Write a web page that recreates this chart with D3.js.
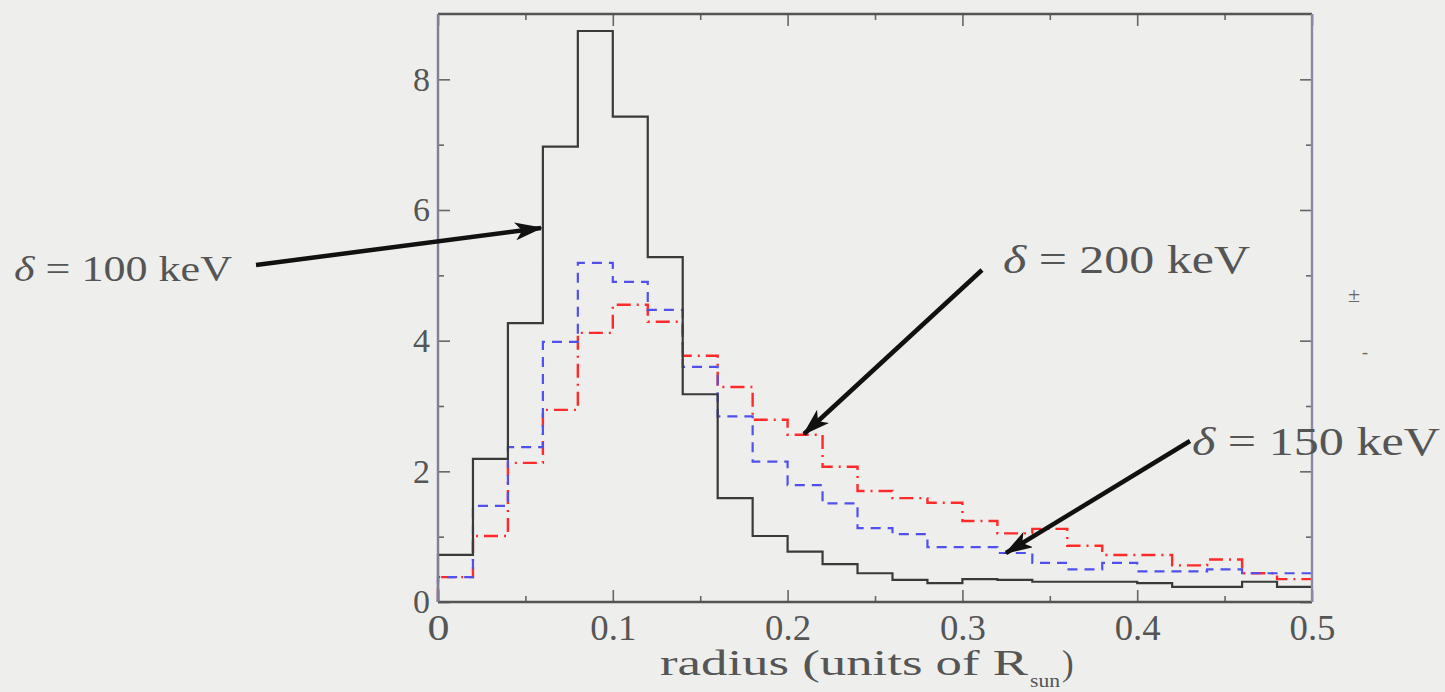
<!DOCTYPE html>
<html>
<head>
<meta charset="utf-8">
<script src="https://cdn.jsdelivr.net/npm/d3@7"></script>
<style>
  html, body { margin: 0; padding: 0; background: #eeeeec; }
  svg { display: block; }
  text { font-family: "Liberation Serif", "DejaVu Serif", serif; }
</style>
</head>
<body>
<svg id="chart" width="1445" height="692"></svg>
<script>
// ---- data ----
const binStarts = [0.00, 0.02, 0.04, 0.06, 0.08, 0.10, 0.12, 0.14, 0.16, 0.18,
                   0.20, 0.22, 0.24, 0.26, 0.28, 0.30, 0.32, 0.34, 0.36, 0.38,
                   0.40, 0.42, 0.44, 0.46, 0.48];
const binEnd = 0.5;
const keV100 = [0.72, 2.19, 4.27, 6.97, 8.74, 7.43, 5.28, 3.18, 1.59, 1.01,
                0.77, 0.58, 0.44, 0.34, 0.29, 0.35, 0.34, 0.31, 0.31, 0.31,
                0.29, 0.23, 0.23, 0.31, 0.23];
const keV150 = [0.38, 1.47, 2.37, 3.98, 5.19, 4.90, 4.47, 3.60, 2.84, 2.15,
                1.79, 1.51, 1.13, 1.04, 0.84, 0.84, 0.75, 0.60, 0.50, 0.60,
                0.47, 0.47, 0.50, 0.44, 0.44];
const keV200 = [0.38, 1.01, 2.13, 2.94, 4.12, 4.55, 4.29, 3.77, 3.29, 2.79,
                2.56, 2.07, 1.70, 1.59, 1.52, 1.24, 1.05, 1.12, 0.86, 0.72,
                0.72, 0.56, 0.65, 0.44, 0.35];
const xMajorTicks = [0, 0.1, 0.2, 0.3, 0.4, 0.5];
const xMinorTicks = [0.05, 0.15, 0.25, 0.35, 0.45];
const yMajorTicks = [0, 2, 4, 6, 8];
const yMinorTicks = [1, 3, 5, 7];

// ---- layout ----
const svg = d3.select("#chart");
const L = 438, R = 1312, T = 14, B = 602;
const x = d3.scaleLinear().domain([0, 0.5]).range([L, R]);
const y = d3.scaleLinear().domain([0, 9]).range([B, T]);

svg.append("rect").attr("width", 1445).attr("height", 692).attr("fill", "#eeeeec");

// histogram paths
function histPoints(vals) {
  const pts = [[0, 0]];
  vals.forEach((v, i) => pts.push([binStarts[i], v]));
  pts.push([binEnd, vals[vals.length - 1]]);
  return pts;
}
const line = d3.line().x(d => x(d[0])).y(d => y(d[1])).curve(d3.curveStepAfter);

svg.append("path").attr("d", line(histPoints(keV200)))
  .attr("fill", "none").attr("stroke", "#ff2a2a").attr("stroke-width", 2.4)
  .attr("stroke-dasharray", "14,6,2,6");
svg.append("path").attr("d", line(histPoints(keV150)))
  .attr("fill", "none").attr("stroke", "#5050ee").attr("stroke-width", 2.2)
  .attr("stroke-dasharray", "10,7");
svg.append("path").attr("d", line(histPoints(keV100)))
  .attr("fill", "none").attr("stroke", "#3a3a3a").attr("stroke-width", 2.2);

// axes (ticks inward)
const axisG = svg.append("g");
function axis(gen, tr) {
  const g = axisG.append("g").attr("transform", tr).call(gen);
  g.select(".domain").remove();
  g.selectAll("line").attr("stroke", "#666").attr("stroke-width", 1.6);
  return g;
}
// bottom
const bx = axis(d3.axisBottom(x).tickValues(xMajorTicks).tickSize(-12).tickPadding(12)
  .tickFormat(d => d === 0 ? "0" : d3.format(".1f")(d)), `translate(0,${B})`);
bx.selectAll("text").attr("font-size", 36).attr("fill", "#555").attr("dy", "0.72em")
  .attr("font-family", "Liberation Serif, serif")
  .attr("lengthAdjust", "spacingAndGlyphs")
  .attr("textLength", d => d === 0 ? 22 : 46);
axis(d3.axisBottom(x).tickValues(xMinorTicks).tickSize(-6).tickFormat(""), `translate(0,${B})`);
// top
axis(d3.axisTop(x).tickValues(xMajorTicks).tickSize(-12).tickFormat(""), `translate(0,${T})`);
axis(d3.axisTop(x).tickValues(xMinorTicks).tickSize(-6).tickFormat(""), `translate(0,${T})`);
// left
const ly = axis(d3.axisLeft(y).tickValues(yMajorTicks).tickSize(-12).tickPadding(8)
  .tickFormat(d3.format("d")), `translate(${L},0)`);
ly.selectAll("text").attr("font-size", 34).attr("fill", "#555").attr("font-family", "Liberation Serif, serif");
axis(d3.axisLeft(y).tickValues(yMinorTicks).tickSize(-6).tickFormat(""), `translate(${L},0)`);
// right
axis(d3.axisRight(y).tickValues(yMajorTicks).tickSize(-12).tickFormat(""), `translate(${R},0)`);
axis(d3.axisRight(y).tickValues(yMinorTicks).tickSize(-6).tickFormat(""), `translate(${R},0)`);

// frame
svg.append("line").attr("x1", L).attr("x2", R).attr("y1", B).attr("y2", B).attr("stroke", "#555").attr("stroke-width", 2.4);
svg.append("line").attr("x1", L).attr("x2", R).attr("y1", T).attr("y2", T).attr("stroke", "#555").attr("stroke-width", 2.4);
svg.append("line").attr("x1", L).attr("x2", L).attr("y1", T).attr("y2", B).attr("stroke", "#7f7f96").attr("stroke-width", 2.4);
svg.append("line").attr("x1", R).attr("x2", R).attr("y1", T).attr("y2", B).attr("stroke", "#8a8aa8").attr("stroke-width", 2.4);

// x axis title
svg.append("text").attr("x", 660).attr("y", 675).attr("font-size", 35).attr("fill", "#555")
  .attr("textLength", 368).attr("lengthAdjust", "spacingAndGlyphs").text("radius (units of R");
svg.append("text").attr("x", 1030).attr("y", 687).attr("font-size", 19).attr("fill", "#555")
  .attr("textLength", 30).attr("lengthAdjust", "spacingAndGlyphs").text("sun");
svg.append("text").attr("x", 1062).attr("y", 675).attr("font-size", 35).attr("fill", "#555").text(")");

// arrows
const defs = svg.append("defs");
defs.append("marker").attr("id", "ah").attr("viewBox", "0 0 28 18").attr("refX", 26).attr("refY", 9)
  .attr("markerWidth", 28).attr("markerHeight", 18).attr("markerUnits", "userSpaceOnUse")
  .attr("orient", "auto")
  .append("path").attr("d", "M0,0 L28,9 L0,18 L7,9 Z").attr("fill", "#111");

const arrows = [
  {x1: 256, y1: 265, x2: 541, y2: 228},
  {x1: 982, y1: 270, x2: 804, y2: 434},
  {x1: 1190, y1: 441, x2: 1006, y2: 553}
];
svg.selectAll("line.arrow").data(arrows).join("line").attr("class", "arrow")
  .attr("x1", d => d.x1).attr("y1", d => d.y1).attr("x2", d => d.x2).attr("y2", d => d.y2)
  .attr("stroke", "#111").attr("stroke-width", 4.5).attr("marker-end", "url(#ah)");

// labels
const labels = [
  {x: 14, y: 281, size: 36, w: 218, t: "100 keV"},
  {x: 1003, y: 273, size: 40, w: 247, t: "200 keV"},
  {x: 1192, y: 455, size: 40, w: 248, t: "150 keV"}
];
labels.forEach(l => {
  const t = svg.append("text").attr("x", l.x).attr("y", l.y).attr("font-size", l.size).attr("fill", "#555")
    .attr("textLength", l.w).attr("lengthAdjust", "spacingAndGlyphs");
  t.append("tspan").attr("font-style", "italic").text("δ");
  t.append("tspan").text(" = " + l.t);
});

// small stray marks at the right margin
svg.append("text").attr("x", 1348).attr("y", 302).attr("font-size", 22).attr("fill", "#666").text("±");
svg.append("text").attr("x", 1362).attr("y", 358).attr("font-size", 18).attr("fill", "#666").text("-");
</script>
</body>
</html>
